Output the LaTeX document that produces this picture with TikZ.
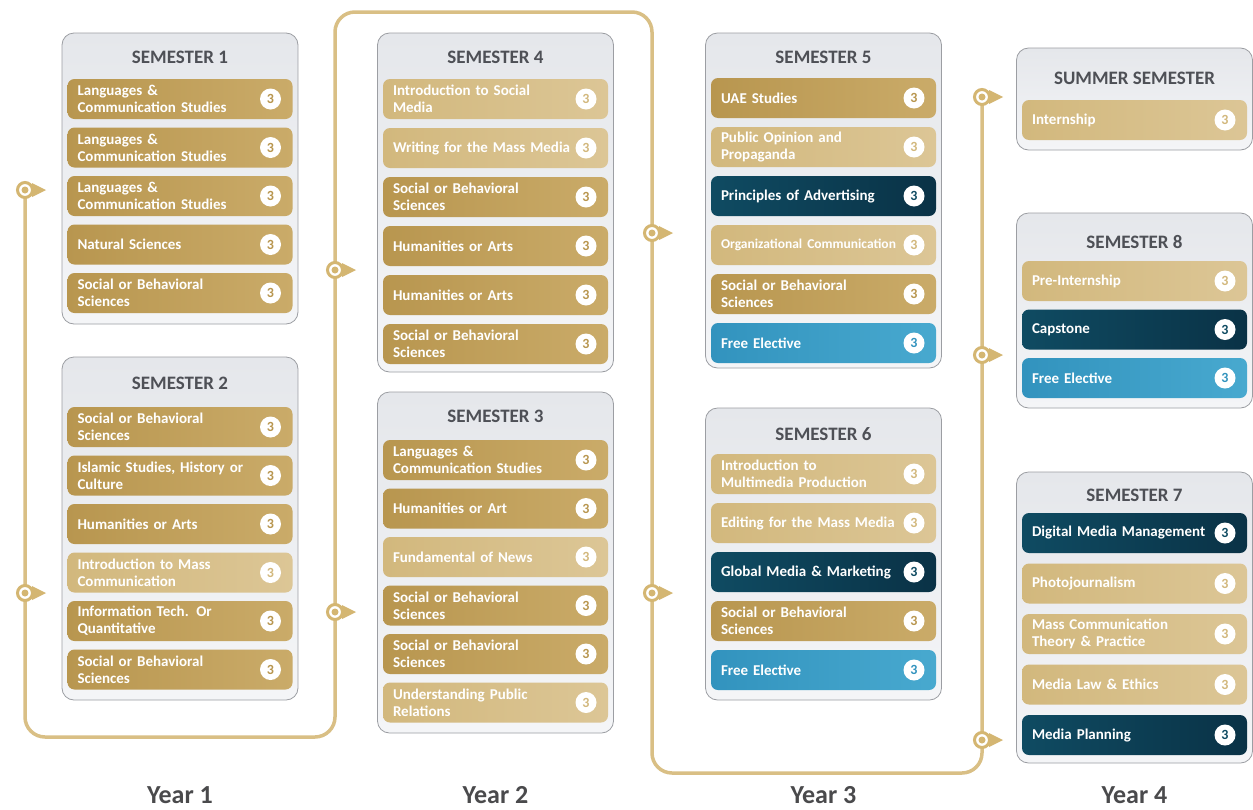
\documentclass[tikz,border=0pt]{standalone}
\usepackage{fontspec}
\setmainfont{Carlito}
\usetikzlibrary{positioning}

\definecolor{trackgold}{HTML}{D9BF85}
\definecolor{pingold}{HTML}{D4B672}
\definecolor{goldL}{HTML}{B8964F}
\definecolor{goldR}{HTML}{CAAB69}
\definecolor{sandL}{HTML}{D2B87D}
\definecolor{sandR}{HTML}{DCC696}
\definecolor{navyL}{HTML}{0F4B62}
\definecolor{navyR}{HTML}{0A3246}
\definecolor{blueL}{HTML}{3293BE}
\definecolor{blueR}{HTML}{48A9CF}
\definecolor{cardtop}{HTML}{E5E7EB}
\definecolor{cardbot}{HTML}{F4F5F7}
\definecolor{cardline}{HTML}{9C9EA3}
\definecolor{titlegray}{HTML}{4E5056}
\definecolor{yeargray}{HTML}{4A4A4C}

\tikzset{
  card/.style = {draw=cardline, line width=0.8pt, rounded corners=12pt,
                 top color=cardtop, bottom color=cardbot,
                 minimum width=236pt, inner sep=0pt},
  cardtitle/.style = {font=\bfseries\fontsize{19}{20}\selectfont, text=titlegray},
  course/.style = {rounded corners=7pt, minimum width=225pt, minimum height=40pt,
                   text width=205pt, inner xsep=10pt, inner ysep=0pt, align=left,
                   text=white, font=\bfseries\fontsize{15}{17}\selectfont},
  goldbar/.style = {course, left color=goldL, right color=goldR},
  sandbar/.style = {course, left color=sandL, right color=sandR},
  navybar/.style = {course, left color=navyL, right color=navyR},
  bluebar/.style = {course, left color=blueL, right color=blueR},
  credit/.style = {circle, fill=white, minimum size=21pt, inner sep=0pt,
                   font=\bfseries\fontsize{14}{14}\selectfont, text=#1},
  goldbar num/.style = {credit=goldL},
  sandbar num/.style = {credit=sandL},
  navybar num/.style = {credit=navyL},
  bluebar num/.style = {credit=blueL},
  yearlabel/.style = {font=\bfseries\fontsize{26}{28}\selectfont, text=yeargray},
  track/.style = {draw=trackgold, line width=3.5pt, rounded corners=20pt},
  pin/.style = {circle, draw=pingold, line width=3pt, fill=white,
                minimum size=15pt, inner sep=0pt}
}

% one course bar with its credit badge
\newcommand{\course}[5]{%
  \node[#2] (#1) at (#3,#4) {#5};
  \node[#2 num, left=11.5pt of #1.east] (#1n) {3};
}
% a stop on the track
\newcommand{\waypin}[1]{%
  \fill[pingold] ([xshift=7pt,yshift=7pt]#1) -- ([xshift=21pt]#1) -- ([xshift=7pt,yshift=-7pt]#1) -- cycle;
  \node[pin] at (#1) {};
  \fill[pingold] (#1) circle (3.5pt);
}

\begin{document}
\begin{tikzpicture}[x=1pt, y=-1pt]
	\def \colA{180}
	\def \colB{495.5}
	\def \colC{823.5}
	\def \colD{1134.5}

	\useasboundingbox (0,0) rectangle (1253,809);
	\fill[white] (0,0) rectangle (1253,809);

	% Track stops
	\coordinate (y1a) at (25,190);
	\coordinate (y1b) at (25,593);
	\coordinate (y2a) at (335,270);
	\coordinate (y2b) at (335,612);
	\coordinate (y3a) at (652,233);
	\coordinate (y3b) at (652,593);
	\coordinate (y4a) at (982,97);
	\coordinate (y4b) at (982,355);
	\coordinate (y4c) at (982,740);

	% Track corners
	\coordinate (c1) at (25,737);
	\coordinate (c2) at (335,737);
	\coordinate (c3) at (335,12);
	\coordinate (c4) at (652,12);
	\coordinate (c5) at (652,773);
	\coordinate (c6) at (982,773);

	% Track
	\draw[track] (y1a) -- (c1) -- (c2) -- (c3) -- (c4) -- (c5) -- (c6) -- (y4a);

	\waypin{y1a} \waypin{y1b}
	\waypin{y2a} \waypin{y2b}
	\waypin{y3a} \waypin{y3b}
	\waypin{y4a} \waypin{y4b} \waypin{y4c}

	% Cards
	\node[card, minimum height=291pt] (sem1) at (\colA,178.5) {};
	\node[card, minimum height=343pt] (sem2) at (\colA,528.5) {};
	\node[card, minimum height=339pt] (sem4) at (\colB,202.5) {};
	\node[card, minimum height=341pt] (sem3) at (\colB,562.5) {};
	\node[card, minimum height=335pt] (sem5) at (\colC,200.5) {};
	\node[card, minimum height=292pt] (sem6) at (\colC,554) {};
	\node[card, minimum height=102pt] (semS) at (\colD,99) {};
	\node[card, minimum height=195pt] (sem8) at (\colD,310.5) {};
	\node[card, minimum height=291pt] (sem7) at (\colD,617.5) {};

	% Titles
	\node[cardtitle] (t1) at (\colA,57) {SEMESTER 1};
	\node[cardtitle] (t2) at (\colA,383) {SEMESTER 2};
	\node[cardtitle] (t4) at (\colB,57) {SEMESTER 4};
	\node[cardtitle] (t3) at (\colB,416) {SEMESTER 3};
	\node[cardtitle] (t5) at (\colC,57) {SEMESTER 5};
	\node[cardtitle] (t6) at (\colC,434) {SEMESTER 6};
	\node[cardtitle] (tS) at (\colD,78) {SUMMER SEMESTER};
	\node[cardtitle] (t8) at (\colD,242) {SEMESTER 8};
	\node[cardtitle] (t7) at (\colD,495) {SEMESTER 7};

	% Semester 1
	\course{s1a}{goldbar}{\colA}{99}{Languages \&\\Communication Studies}
	\course{s1b}{goldbar}{\colA}{147.5}{Languages \&\\Communication Studies}
	\course{s1c}{goldbar}{\colA}{196}{Languages \&\\Communication Studies}
	\course{s1d}{goldbar}{\colA}{244.5}{Natural Sciences}
	\course{s1e}{goldbar}{\colA}{293}{Social or Behavioral\\Sciences}

	% Semester 2
	\course{s2a}{goldbar}{\colA}{427}{Social or Behavioral\\Sciences}
	\course{s2b}{goldbar}{\colA}{475.5}{Islamic Studies, History or\\Culture}
	\course{s2c}{goldbar}{\colA}{524}{Humanities or Arts}
	\course{s2d}{sandbar}{\colA}{572.5}{Introduction to Mass\\Communication}
	\course{s2e}{goldbar}{\colA}{621}{Information Tech. Or\\Quantitative}
	\course{s2f}{goldbar}{\colA}{669.5}{Social or Behavioral\\Sciences}

	% Semester 4
	\course{s4a}{sandbar}{\colB}{99}{Introduction to Social\\Media}
	\course{s4b}{sandbar}{\colB}{148}{Writing for the Mass Media}
	\course{s4c}{goldbar}{\colB}{197}{Social or Behavioral\\Sciences}
	\course{s4d}{goldbar}{\colB}{246}{Humanities or Arts}
	\course{s4e}{goldbar}{\colB}{295}{Humanities or Arts}
	\course{s4f}{goldbar}{\colB}{344}{Social or Behavioral\\Sciences}

	% Semester 3
	\course{s3a}{goldbar}{\colB}{460}{Languages \&\\Communication Studies}
	\course{s3b}{goldbar}{\colB}{508.5}{Humanities or Art}
	\course{s3c}{sandbar}{\colB}{557}{Fundamental of News}
	\course{s3d}{goldbar}{\colB}{605.5}{Social or Behavioral\\Sciences}
	\course{s3e}{goldbar}{\colB}{654}{Social or Behavioral\\Sciences}
	\course{s3f}{sandbar}{\colB}{702.5}{Understanding Public\\Relations}

	% Semester 5
	\course{s5a}{goldbar}{\colC}{98}{UAE Studies}
	\course{s5b}{sandbar}{\colC}{147}{Public Opinion and\\Propaganda}
	\course{s5c}{navybar}{\colC}{196}{Principles of Advertising}
	\course{s5d}{sandbar}{\colC}{245}{\fontsize{13.5}{17}\selectfont Organizational Communication}
	\course{s5e}{goldbar}{\colC}{294}{Social or Behavioral\\Sciences}
	\course{s5f}{bluebar}{\colC}{343}{Free Elective}

	% Semester 6
	\course{s6a}{sandbar}{\colC}{474}{Introduction to\\Multimedia Production}
	\course{s6b}{sandbar}{\colC}{523}{Editing for the Mass Media}
	\course{s6c}{navybar}{\colC}{572}{Global Media \& Marketing}
	\course{s6d}{goldbar}{\colC}{621}{Social or Behavioral\\Sciences}
	\course{s6e}{bluebar}{\colC}{670}{Free Elective}

	% Summer
	\course{sSa}{sandbar}{\colD}{120}{Internship}

	% Semester 8
	\course{s8a}{sandbar}{\colD}{281}{Pre-Internship}
	\course{s8b}{navybar}{\colD}{329.5}{Capstone}
	\course{s8c}{bluebar}{\colD}{378}{Free Elective}

	% Semester 7
	\course{s7a}{navybar}{\colD}{533}{Digital Media Management}
	\course{s7b}{sandbar}{\colD}{583.5}{Photojournalism}
	\course{s7c}{sandbar}{\colD}{634}{Mass Communication\\Theory \& Practice}
	\course{s7d}{sandbar}{\colD}{684.5}{Media Law \& Ethics}
	\course{s7e}{navybar}{\colD}{735}{Media Planning}

	% Years
	\node[yearlabel] (yr1) at (\colA,795) {Year 1};
	\node[yearlabel] (yr2) at (\colB,795) {Year 2};
	\node[yearlabel] (yr3) at (\colC,795) {Year 3};
	\node[yearlabel] (yr4) at (\colD,795) {Year 4};

\end{tikzpicture}
\end{document}
